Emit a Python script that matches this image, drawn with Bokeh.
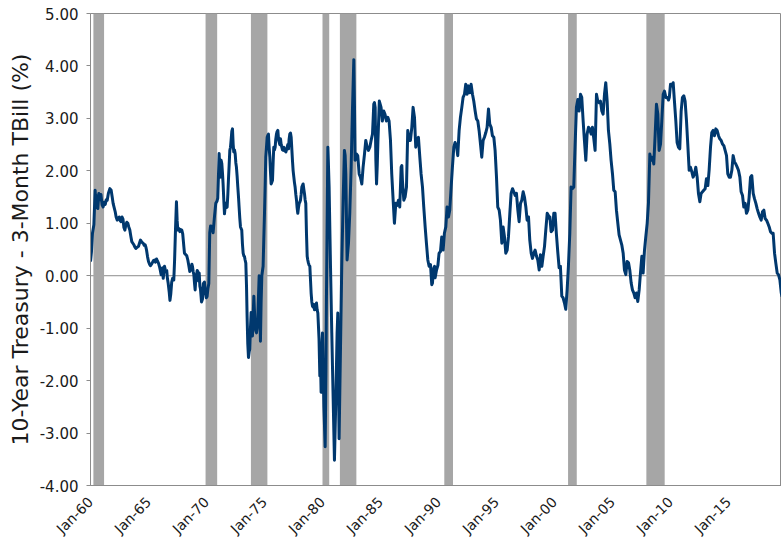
import math
from bokeh.plotting import figure
from bokeh.models import FixedTicker, Span, Range1d
from bokeh.embed import file_html
from bokeh.resources import INLINE

# ---- data (decimal year, 10Y - 3M spread in %) ----
years = [
1960.00,1960.08,1960.17,1960.29,1960.40,1960.48,1960.56,1960.63,1960.72,1960.80,1960.90,
1961.00,1961.09,1961.18,1961.27,1961.36,1961.44,1961.55,1961.67,1961.78,1961.87,1961.95,
1962.04,1962.13,1962.21,1962.30,1962.39,1962.47,1962.56,1962.64,1962.72,1962.80,1962.88,1962.96,
1963.05,1963.13,1963.22,1963.30,1963.39,1963.48,1963.56,1963.65,1963.74,1963.82,1963.91,
1964.00,1964.14,1964.22,1964.31,1964.40,1964.47,1964.54,1964.63,1964.71,1964.77,1964.83,1964.92,
1965.00,1965.09,1965.17,1965.26,1965.34,1965.43,1965.52,1965.60,1965.69,1965.77,1965.86,1965.94,
1966.02,1966.09,1966.15,1966.21,1966.27,1966.32,1966.38,1966.44,1966.50,1966.57,1966.63,1966.70,1966.78,1966.85,1966.92,
1967.00,1967.08,1967.18,1967.25,1967.33,1967.41,1967.47,1967.53,1967.62,1967.70,1967.78,1967.87,1967.95,
1968.05,1968.10,1968.22,1968.30,1968.39,1968.47,1968.56,1968.62,1968.68,1968.74,1968.79,1968.85,1968.91,1968.97,
1969.02,1969.08,1969.14,1969.20,1969.25,1969.31,1969.37,1969.43,1969.48,1969.57,1969.65,1969.73,1969.82,1969.90,1969.98,
1970.05,1970.12,1970.20,1970.28,1970.35,1970.46,1970.57,1970.69,1970.80,1970.90,1970.97,
1971.03,1971.09,1971.15,1971.20,1971.26,1971.32,1971.38,1971.43,1971.50,1971.55,1971.60,1971.66,1971.72,1971.78,1971.84,1971.89,1971.95,
1972.01,1972.07,1972.12,1972.18,1972.24,1972.30,1972.35,1972.41,1972.47,1972.53,1972.58,1972.64,1972.70,1972.76,1972.81,1972.87,1972.93,
1973.04,1973.10,1973.16,1973.22,1973.27,1973.33,1973.39,1973.45,1973.50,1973.56,1973.62,1973.68,1973.73,1973.79,1973.85,1973.91,1973.96,
1974.02,1974.08,1974.14,1974.19,1974.25,1974.31,1974.37,1974.42,1974.48,1974.54,1974.60,1974.65,1974.71,1974.77,1974.83,1974.88,1974.94,
1975.00,1975.06,1975.11,1975.17,1975.23,1975.29,1975.34,1975.40,1975.46,1975.51,1975.57,1975.63,1975.69,1975.75,1975.80,1975.86,1975.92,1975.97,
1976.03,1976.09,1976.15,1976.21,1976.26,1976.32,1976.38,1976.44,1976.49,1976.55,1976.61,1976.66,1976.72,1976.78,1976.84,1976.90,1976.95,
1977.01,1977.07,1977.12,1977.18,1977.24,1977.30,1977.36,1977.41,1977.47,1977.53,1977.58,1977.64,1977.70,1977.76,1977.81,1977.87,1977.93,1977.99,
1978.04,1978.10,1978.16,1978.22,1978.27,1978.33,1978.39,1978.45,1978.50,1978.56,1978.62,1978.68,1978.73,1978.79,1978.85,1978.91,1978.97,
1979.02,1979.08,1979.14,1979.20,1979.25,1979.31,1979.37,1979.42,1979.48,1979.54,1979.60,1979.70,1979.77,1979.83,1979.88,1979.94,
1980.00,1980.06,1980.12,1980.23,1980.30,1980.34,1980.46,1980.50,1980.57,1980.69,1980.80,1980.92,
1981.03,1981.15,1981.26,1981.32,1981.43,1981.55,1981.66,1981.78,1981.89,1981.95,
1982.01,1982.12,1982.24,1982.35,1982.47,1982.58,1982.70,1982.76,1982.81,1982.87,1982.93,
1983.04,1983.16,1983.27,1983.39,1983.50,1983.62,1983.73,1983.85,1983.96,
1984.08,1984.19,1984.31,1984.37,1984.42,1984.48,1984.54,1984.60,1984.66,1984.72,1984.78,1984.90,
1985.05,1985.16,1985.28,1985.39,1985.51,1985.63,1985.74,1985.86,1985.97,
1986.09,1986.20,1986.32,1986.43,1986.55,1986.66,1986.78,1986.84,1986.89,
1987.01,1987.12,1987.24,1987.35,1987.47,1987.58,1987.70,1987.81,1987.93,
1988.04,1988.16,1988.27,1988.39,1988.50,1988.62,1988.73,1988.85,1988.96,
1989.08,1989.19,1989.31,1989.42,1989.48,1989.54,1989.60,1989.66,1989.71,1989.83,1989.95,
1990.05,1990.17,1990.28,1990.40,1990.51,1990.63,1990.74,1990.86,1990.97,
1991.09,1991.20,1991.32,1991.43,1991.55,1991.66,1991.78,1991.89,
1992.01,1992.12,1992.24,1992.35,1992.47,1992.58,1992.70,1992.81,1992.93,
1993.04,1993.16,1993.27,1993.39,1993.50,1993.62,1993.73,1993.85,1993.96,
1994.08,1994.19,1994.31,1994.42,1994.54,1994.65,1994.77,1994.88,
1995.00,1995.11,1995.23,1995.34,1995.46,1995.57,1995.69,1995.80,1995.92,
1996.03,1996.15,1996.26,1996.38,1996.49,1996.61,1996.72,1996.84,1996.95,
1997.07,1997.18,1997.30,1997.41,1997.53,1997.64,1997.76,1997.87,1997.99,
1998.10,1998.22,1998.33,1998.45,1998.56,1998.68,1998.79,1998.91,
1999.02,1999.14,1999.25,1999.37,1999.48,1999.55,1999.60,1999.71,1999.83,1999.94,
2000.05,2000.16,2000.28,2000.40,2000.51,2000.63,2000.74,2000.86,2000.97,
2001.09,2001.20,2001.32,2001.43,2001.55,2001.66,2001.78,2001.89,
2002.01,2002.12,2002.24,2002.35,2002.47,2002.58,2002.70,2002.81,2002.93,
2003.04,2003.16,2003.27,2003.39,2003.50,2003.62,2003.73,2003.85,2003.96,
2004.08,2004.19,2004.31,2004.42,2004.54,2004.65,2004.77,2004.88,
2005.00,2005.11,2005.23,2005.34,2005.46,2005.57,2005.69,2005.80,2005.92,
2006.03,2006.15,2006.26,2006.38,2006.49,2006.61,2006.72,2006.84,2006.95,
2007.07,2007.18,2007.30,2007.41,2007.53,2007.64,2007.76,2007.87,2007.99,
2008.10,2008.22,2008.33,2008.45,2008.56,2008.68,2008.79,2008.91,
2009.02,2009.14,2009.25,2009.37,2009.48,2009.60,2009.72,2009.83,2009.90,
2010.00,2010.11,2010.23,2010.34,2010.46,2010.57,2010.69,2010.80,2010.92,
2011.03,2011.15,2011.26,2011.38,2011.49,2011.61,2011.72,2011.84,2011.95,
2012.07,2012.18,2012.30,2012.41,2012.53,2012.64,2012.76,2012.87,2012.99,
2013.10,2013.22,2013.33,2013.45,2013.56,2013.68,2013.79,2013.91,
2014.02,2014.14,2014.25,2014.37,2014.48,2014.60,2014.71,2014.83,2014.94,
2015.06,2015.17,2015.29,2015.40,2015.52,2015.63,2015.75,2015.86,2015.98,
2016.09,2016.21,2016.32,2016.44,2016.55,2016.67,2016.78,2016.90,
2017.01,2017.13,2017.24,2017.36,2017.47,2017.59,2017.70,2017.82,2017.93,
2018.05,2018.16,2018.28,2018.39,2018.51,2018.62,2018.74,2018.85,2018.97,
2019.08,2019.20,2019.31,2019.43,2019.55,2019.62,
]

spread = [
0.27,0.45,0.81,0.97,1.63,1.30,1.52,1.28,1.57,1.45,1.55,
1.35,1.31,1.40,1.36,1.45,1.44,1.58,1.66,1.63,1.50,1.38,
1.30,1.22,1.12,1.06,1.10,1.12,1.05,1.03,1.12,1.08,0.92,0.87,
0.97,1.02,1.00,0.93,0.87,0.75,0.65,0.62,0.59,0.55,0.52,
0.54,0.56,0.62,0.68,0.65,0.63,0.62,0.58,0.59,0.55,0.49,0.36,
0.27,0.22,0.19,0.22,0.25,0.29,0.30,0.26,0.32,0.28,0.24,0.18,
0.10,0.02,0.12,0.15,-0.05,0.05,0.18,0.12,0.08,0.10,-0.05,-0.15,-0.30,-0.47,-0.35,
-0.12,-0.05,-0.08,0.30,0.90,1.41,1.05,0.87,0.90,0.84,0.88,0.87,0.80,
0.55,0.43,0.40,0.38,0.30,0.20,0.08,0.14,0.11,0.22,0.18,0.08,0.02,-0.15,
-0.27,-0.05,0.02,0.10,0.08,-0.10,0.05,-0.20,-0.25,-0.50,-0.45,-0.15,-0.12,-0.30,-0.42,
-0.40,-0.25,-0.15,0.82,0.95,0.94,0.82,1.13,1.38,1.42,1.48,
1.90,2.33,2.00,1.88,2.20,2.14,1.95,1.75,1.40,1.18,1.30,1.38,1.30,1.31,1.55,1.82,2.10,
2.39,2.45,2.58,2.75,2.80,2.50,2.36,2.40,2.33,2.15,2.07,1.90,1.69,1.50,1.31,1.10,0.93,
0.87,0.60,0.43,0.38,0.37,0.30,0.24,-0.20,-0.77,-1.30,-1.56,-1.45,-1.40,-1.00,-0.70,-0.95,-1.15,
-0.80,-0.39,-0.70,-0.96,-1.05,-1.09,-1.00,-0.83,-0.40,0.00,-0.60,-1.25,-0.50,0.00,0.10,0.18,0.70,
1.19,1.75,2.26,2.45,2.64,2.68,2.70,2.45,2.26,2.00,1.75,1.78,1.82,2.20,2.45,2.40,2.45,2.60,
2.70,2.75,2.77,2.60,2.55,2.50,2.61,2.50,2.45,2.40,2.39,2.45,2.42,2.38,2.36,2.40,2.45,
2.50,2.42,2.60,2.70,2.72,2.64,2.40,2.20,2.00,1.88,1.78,1.69,1.55,1.44,1.30,1.19,1.30,1.38,
1.40,1.44,1.55,1.69,1.72,1.75,1.65,1.56,1.45,1.38,0.80,0.37,0.30,0.24,0.20,0.18,-0.10,
-0.33,-0.50,-0.58,-0.60,-0.55,-0.65,-0.61,-0.55,-0.52,-0.65,-0.71,-1.20,-1.91,-1.65,-2.22,-1.40,
-1.09,-1.72,-2.50,-3.26,-1.80,-0.45,2.45,2.20,1.69,0.18,-1.09,-2.35,
-3.52,-2.35,-1.09,-0.71,-3.11,-1.40,0.18,1.44,2.39,2.30,
1.94,0.30,0.62,1.19,2.07,3.14,4.12,3.20,2.20,2.25,2.32,
2.29,1.94,1.88,1.75,2.07,2.32,2.58,2.45,2.39,
2.45,2.58,2.70,3.00,3.27,3.30,3.21,2.20,1.75,2.10,2.58,3.33,
3.21,2.95,3.14,3.08,2.95,3.02,2.95,2.58,1.94,
1.44,1.00,1.38,1.34,1.44,1.31,2.07,2.10,1.82,
1.44,1.50,1.69,2.77,2.58,2.58,2.83,3.21,3.02,
2.45,2.58,2.64,2.26,1.94,1.69,1.31,0.93,0.62,
0.30,0.18,0.21,-0.17,-0.14,0.05,0.15,0.18,-0.04,0.11,0.20,
0.43,0.46,0.74,0.49,0.81,0.93,1.31,1.12,1.25,
1.69,2.07,2.45,2.54,2.48,2.29,2.77,3.02,
3.21,3.40,3.46,3.65,3.46,3.62,3.49,3.65,3.46,
3.33,3.14,2.99,2.95,2.77,2.51,2.26,2.58,2.64,
2.73,2.83,3.18,2.89,2.83,2.67,2.64,2.39,
1.88,1.31,1.25,1.06,0.62,0.93,0.74,0.43,0.49,
0.74,1.19,1.57,1.66,1.60,1.53,1.57,1.25,1.03,
1.38,1.44,1.60,1.50,1.31,1.06,1.12,0.68,0.43,
0.33,0.43,0.49,0.37,0.30,0.11,0.40,0.18,
0.37,0.56,0.87,1.19,1.15,1.09,1.12,0.84,0.87,1.19,
1.19,0.81,0.46,0.15,0.18,-0.39,-0.42,-0.52,-0.64,
-0.27,0.18,0.81,1.69,1.66,1.69,2.51,3.21,
3.36,3.14,3.46,3.40,2.95,2.58,2.20,2.70,2.83,
2.80,2.70,2.83,2.61,2.39,3.46,3.33,3.30,3.33,
3.14,3.08,3.46,3.68,3.33,2.77,2.51,2.20,
1.94,1.63,1.60,1.25,1.00,0.78,0.68,0.59,0.43,
0.11,0.02,0.27,0.25,0.11,-0.14,-0.27,-0.33,-0.42,
-0.33,-0.49,-0.27,0.05,0.37,0.05,0.49,0.74,1.00,
1.38,2.32,2.20,2.26,2.13,2.70,3.27,3.08,
2.39,2.51,2.95,3.46,3.52,3.40,3.40,3.35,3.40,
3.65,3.62,3.68,3.33,2.95,2.54,2.45,2.42,3.14,
3.40,3.43,3.33,2.95,2.51,2.01,2.07,1.98,1.88,
1.94,2.07,1.88,1.57,1.41,1.57,1.60,1.63,1.66,
1.85,1.72,2.01,2.45,2.73,2.77,2.67,2.80,
2.77,2.67,2.61,2.58,2.51,2.48,2.39,2.29,1.94,
1.88,1.88,2.01,2.29,2.17,2.13,2.07,2.01,1.88,
1.60,1.53,1.31,1.38,1.19,1.25,1.50,1.88,
1.91,1.57,1.47,1.38,1.28,1.19,1.12,1.06,1.22,
1.25,1.09,1.06,1.00,0.93,0.84,0.81,0.81,0.43,
0.24,0.05,0.02,-0.08,-0.33,-0.40,
]

# NBER recessions (decimal year start / end)
rec_start = [1960.25, 1969.92, 1973.83, 1980.00, 1981.50, 1990.50, 2001.17, 2007.92]
rec_end   = [1961.17, 1970.92, 1975.25, 1980.58, 1982.92, 1991.25, 2001.92, 2009.50]

tick_years  = [1960, 1965, 1970, 1975, 1980, 1985, 1990, 1995, 2000, 2005, 2010, 2015]
tick_labels = ["Jan-60", "Jan-65", "Jan-70", "Jan-75", "Jan-80", "Jan-85",
               "Jan-90", "Jan-95", "Jan-00", "Jan-05", "Jan-10", "Jan-15"]
y_ticks = [-4, -3, -2, -1, 0, 1, 2, 3, 4, 5]

FONT = "DejaVu Sans"
AXIS_GRAY = "#8c8c8c"

p = figure(width=781, height=545, output_backend="svg", toolbar_location=None,
           x_range=Range1d(1960.0, 2019.57), y_range=Range1d(-4, 5),
           min_border_left=90, min_border_right=0, min_border_top=13, min_border_bottom=57)
p.background_fill_color = "white"
p.border_fill_color = "white"
p.outline_line_color = AXIS_GRAY
p.outline_line_width = 1
p.xgrid.visible = False
p.ygrid.visible = False

zero = Span(location=0, dimension="width", line_color=AXIS_GRAY, line_width=1, level="underlay")
p.add_layout(zero)

p.quad(left=rec_start, right=rec_end, bottom=-4, top=5,
       fill_color="#a6a6a6", line_color=None)

p.line(years, spread, line_color="#00386e", line_width=3, line_join="round")

# axes
p.xaxis.ticker = FixedTicker(ticks=tick_years)
p.xaxis.major_label_overrides = {y: l for y, l in zip(tick_years, tick_labels)}
p.xaxis.major_label_orientation = math.pi / 4
p.xaxis.minor_tick_line_color = None
p.xaxis.major_tick_line_color = None
p.xaxis.major_label_standoff = 8
p.xaxis.axis_line_color = AXIS_GRAY
p.xaxis.major_label_text_font = FONT
p.xaxis.major_label_text_font_size = "14px"
p.xaxis.major_label_text_color = "#1a1a1a"

p.yaxis.ticker = FixedTicker(ticks=y_ticks)
p.yaxis.major_label_overrides = {v: f"{v:.2f}" for v in y_ticks}
p.yaxis.minor_tick_line_color = None
p.yaxis.major_tick_line_color = AXIS_GRAY
p.yaxis.major_tick_out = 4
p.yaxis.major_tick_in = 0
p.yaxis.major_label_standoff = 8
p.yaxis.axis_line_color = AXIS_GRAY
p.yaxis.major_label_text_font = FONT
p.yaxis.major_label_text_font_size = "15px"
p.yaxis.major_label_text_color = "#1a1a1a"
p.yaxis.axis_label = "10-Year Treasury - 3-Month TBill (%)"
p.yaxis.axis_label_text_font = FONT
p.yaxis.axis_label_text_font_size = "22px"
p.yaxis.axis_label_text_font_style = "normal"
p.yaxis.axis_label_text_color = "#1a1a1a"
p.yaxis.axis_label_standoff = 4

open("out.html", "w").write(file_html(p, INLINE))
